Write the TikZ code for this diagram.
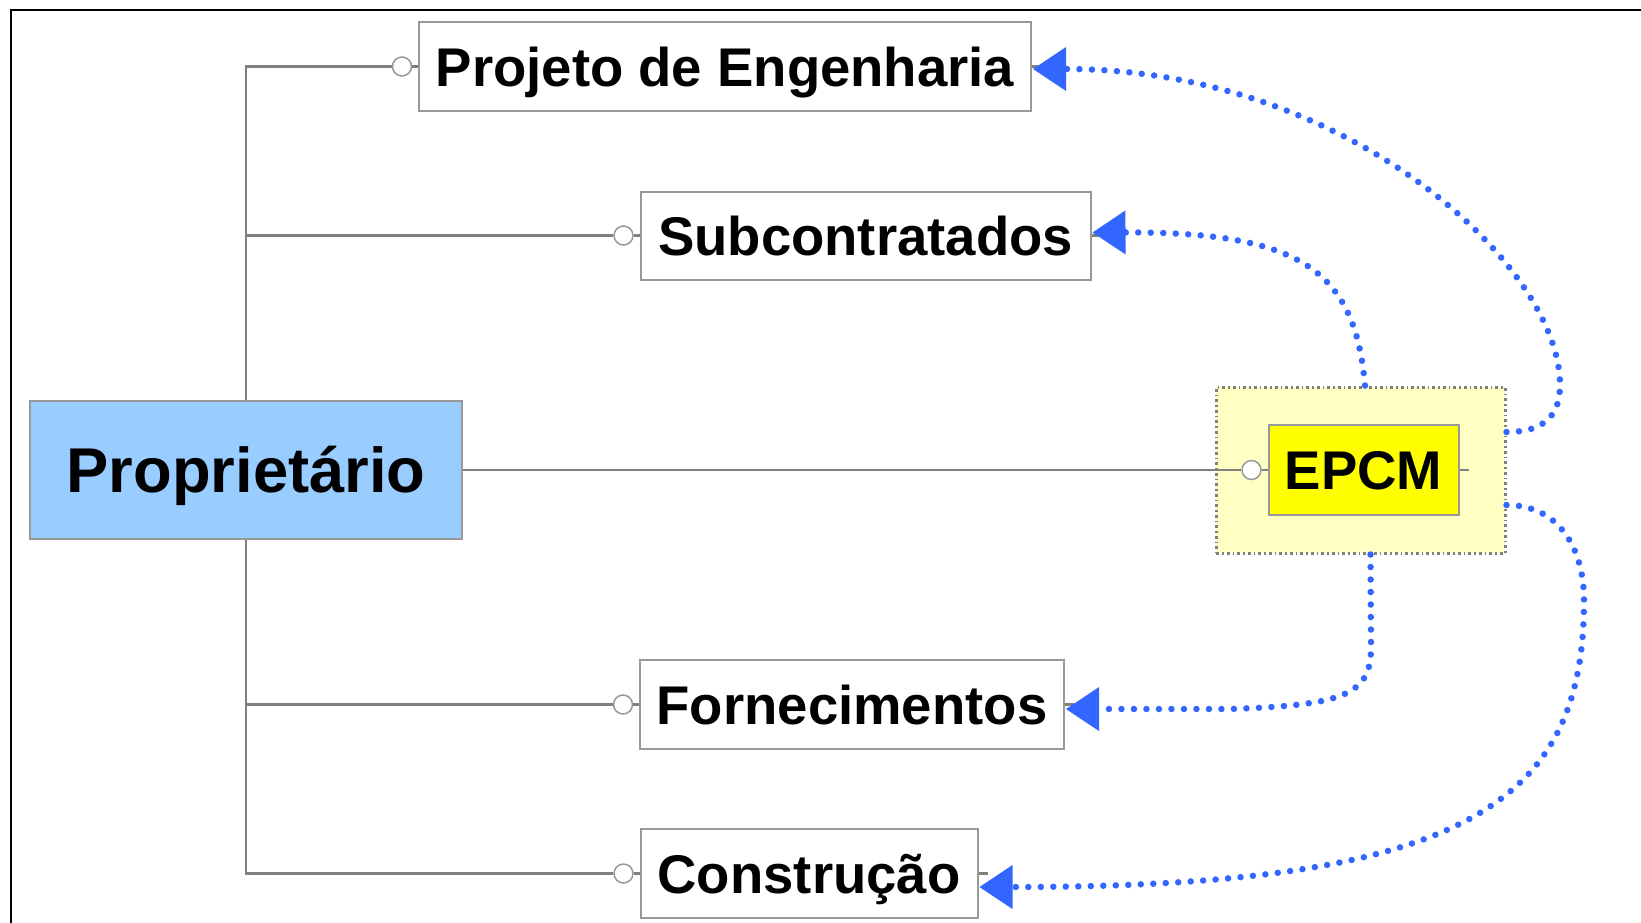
\documentclass[tikz,border=0pt]{standalone}
\usepackage{fontspec}
\setmainfont{Liberation Sans}
\usetikzlibrary{arrows.meta,calc}
\definecolor{connc}{HTML}{808080}
\definecolor{bordc}{HTML}{999999}
\definecolor{blu}{HTML}{3366FF}
\definecolor{propblue}{HTML}{99CCFF}
\definecolor{grpyellow}{HTML}{FFFFC4}
\definecolor{epcmyellow}{HTML}{FFFF00}
\begin{document}
\begin{tikzpicture}[x=1pt,y=-1pt,
  box/.style={draw=bordc,line width=2pt,fill=white,inner sep=0pt,
    font=\fontsize{54.5}{60}\selectfont\bfseries,text height=39pt,text depth=0pt},
  bigbox/.style={box,font=\fontsize{63.3}{70}\selectfont\bfseries,text height=45pt},
  grpbox/.style={draw=connc,line width=3pt,fill=grpyellow,
    dash pattern=on 3pt off 3pt on 1.5pt off 3pt,inner sep=0pt},
  knob/.style={circle,draw=bordc,fill=white,line width=1.5pt,minimum size=19pt,inner sep=0pt},
  gline/.style={draw=connc,line width=2.8pt},
  rel/.style={draw=blu,line width=6.5pt,line cap=round,dash pattern=on 0pt off 12.5pt,
    -{Triangle[length=33pt,width=44pt,line width=0pt,fill=blu]}}]
\useasboundingbox (0,0) rectangle (1641,922);
\fill[white] (0,0) rectangle (1641,922);
% frame
\draw[line width=2pt] (11,930) -- (11,10) -- (1650,10);
% group box
\node[grpbox,minimum width=289pt,minimum height=166pt] (grp) at (1360.5,470) {};
% nodes
\node[bigbox,fill=propblue,minimum width=432pt,minimum height=138pt] (prop) at (246,470) {Proprietário};
\node[box,minimum width=612pt,minimum height=89pt] (proj) at (725,66.5) {Projeto de Engenharia};
\node[box,minimum width=450pt,minimum height=88pt] (sub) at (865.5,235.5) {Subcontratados};
\node[box,minimum width=424pt,minimum height=89pt] (forn) at (852,704.5) {Fornecimentos};
\node[box,minimum width=337pt,minimum height=89pt] (cons) at (809,873.5) {Construção};
\node[box,fill=epcmyellow,minimum width=190pt,minimum height=90pt] (epcm) at (1363.5,470) {EPCM};
% knobs
\node[knob] (kproj) at ($(proj.west)+(-16,0)$) {};
\node[knob] (ksub) at ($(sub.west)+(-16,0)$) {};
\node[knob] (kforn) at ($(forn.west)+(-16,0)$) {};
\node[knob] (kcons) at ($(cons.west)+(-16,0)$) {};
\node[knob] (kepcm) at ($(epcm.west)+(-16,0)$) {};
% tree connectors
\draw[gline] (prop.north) |- (kproj.west);
\draw[gline] (prop.north) |- (ksub.west);
\draw[gline] (prop.south) |- (kforn.west);
\draw[gline] (prop.south) |- (kcons.west);
\draw[gline] (prop.east) -- (kepcm.west);
\draw[gline] (kproj.east) -- (proj.west);
\draw[gline] (ksub.east) -- (sub.west);
\draw[gline] (kforn.east) -- (forn.west);
\draw[gline] (kcons.east) -- (cons.west);
\draw[gline] (kepcm.east) -- (epcm.west);
\draw[gline] (proj.east) -- ++(9,0);
\draw[gline] (sub.east) -- ++(9,0);
\draw[gline] (forn.east) -- ++(9,0);
\draw[gline] (cons.east) -- ++(9,0);
\draw[gline] (epcm.east) -- ++(9,0);
% blue relations
\draw[rel] ($(grp.east)+(0,-38)$) .. controls (1545,432) and (1560,415) .. (1560,385)
  .. controls (1560,265) and (1347,69) .. ($(proj.east)+(1,2.5)$);
\draw[rel] ($(grp.north)+(4.5,0)$) .. controls (1355,270) and (1300,232) .. ($(sub.east)+(1,-3)$);
\draw[rel] ($(grp.south)+(10,0)$) -- (1371,645) .. controls (1372,695) and (1345,705) .. (1230,709)
  -- ($(forn.east)+(1,4.5)$);
\draw[rel] ($(grp.east)+(0,35)$) .. controls (1560,505) and (1584,550) .. (1584,600)
  .. controls (1584,800) and (1471,887) .. ($(cons.east)+(1,13.5)$);
\end{tikzpicture}
\end{document}
